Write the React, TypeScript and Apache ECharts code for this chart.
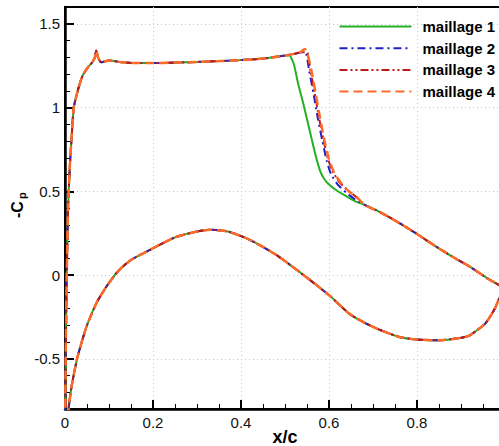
import React, { useEffect, useRef } from 'react';
import * as echarts from 'echarts';

const seriesNames = ['maillage 1', 'maillage 2', 'maillage 3', 'maillage 4'];
const seriesColors = ['#24b024', '#2020c8', '#c01818', '#ff6a28'];
const yMajorTicks = [-0.5, 0, 0.5, 1, 1.5];

// upper surface, leading edge (common)
const leX = [0, 0.002, 0.004, 0.007, 0.011, 0.015, 0.02, 0.03, 0.04, 0.052, 0.062, 0.068, 0.071, 0.075, 0.082, 0.09];
const leCp = [-1.0, -0.4, 0.0, 0.4, 0.65, 0.82, 1.0, 1.11, 1.19, 1.24, 1.27, 1.3, 1.34, 1.3, 1.27, 1.275];
// upper surface plateau (common)
const plateauX = [0.1, 0.13, 0.16, 0.2, 0.25, 0.3, 0.35, 0.4, 0.45, 0.5];
const plateauCp = [1.28, 1.27, 1.265, 1.265, 1.268, 1.272, 1.277, 1.283, 1.292, 1.31];
// shock region, per mesh
const shockX1 = [0.51, 0.52, 0.53, 0.54, 0.55, 0.56, 0.57, 0.58, 0.59, 0.6, 0.62, 0.64, 0.66];
const shockCp1 = [1.31, 1.26, 1.14, 1.04, 0.93, 0.82, 0.71, 0.62, 0.57, 0.54, 0.5, 0.47, 0.44];
const shockX2 = [0.52, 0.54, 0.548, 0.555, 0.565, 0.575, 0.585, 0.595, 0.605, 0.62, 0.64, 0.66];
const shockCp2 = [1.32, 1.33, 1.32, 1.22, 1.08, 0.93, 0.8, 0.68, 0.6, 0.54, 0.49, 0.45];
const shockX3 = [0.52, 0.54, 0.55, 0.558, 0.568, 0.578, 0.588, 0.598, 0.61, 0.625, 0.645, 0.665];
const shockCp3 = [1.32, 1.33, 1.33, 1.22, 1.08, 0.93, 0.8, 0.69, 0.61, 0.55, 0.5, 0.46];
const shockX4 = [0.52, 0.535, 0.545, 0.553, 0.56, 0.57, 0.58, 0.59, 0.6, 0.612, 0.627, 0.645, 0.665];
const shockCp4 = [1.32, 1.33, 1.35, 1.3, 1.22, 1.08, 0.93, 0.8, 0.69, 0.61, 0.55, 0.5, 0.46];
// upper surface aft of shock (common)
const aftX = [0.68, 0.72, 0.76, 0.8, 0.84, 0.88, 0.92, 0.96, 1.0];
const aftCp = [0.42, 0.37, 0.31, 0.245, 0.175, 0.11, 0.05, -0.02, -0.08];
// lower surface (common)
const lowerX = [0, 0.008, 0.015, 0.027, 0.038, 0.05, 0.072, 0.095, 0.121, 0.15, 0.193, 0.25, 0.3, 0.33, 0.37, 0.42, 0.48, 0.534, 0.6, 0.648, 0.7, 0.76, 0.8, 0.85, 0.9, 0.92, 0.955, 0.977, 0.99, 1.0];
const lowerCp = [-1.0, -0.8, -0.665, -0.505, -0.4, -0.3, -0.165, -0.066, 0.024, 0.09, 0.15, 0.225, 0.26, 0.27, 0.26, 0.21, 0.12, 0.016, -0.12, -0.235, -0.31, -0.37, -0.385, -0.39, -0.375, -0.36, -0.29, -0.2, -0.12, -0.08];

const shockXs = [shockX1, shockX2, shockX3, shockX4];
const shockCps = [shockCp1, shockCp2, shockCp3, shockCp4];

const zip = (xs: number[], ys: number[]) => xs.map((x, i) => [x, ys[i]]);

const FONT = 'Liberation Sans, Arial, Helvetica, sans-serif';

export default function App() {
  const ref = useRef<HTMLDivElement>(null);
  useEffect(() => {
    if (!ref.current) return;
    const chart = echarts.init(ref.current, undefined, { renderer: 'svg' });
    const lineTypes: any[] = ['solid', [8, 4, 2, 4], [8, 3, 2, 3, 2, 3], [9, 5]];
    const widths = [2, 2, 2, 2.5];
    const series = seriesNames.map((name, k) => {
      const lower = zip(lowerX, lowerCp).reverse();
      const upper = [
        ...zip(leX, leCp),
        ...zip(plateauX, plateauCp),
        ...zip(shockXs[k], shockCps[k]),
        ...zip(aftX, aftCp),
      ];
      return {
        name,
        type: 'line',
        xAxisIndex: 0,
        yAxisIndex: 0,
        data: [...lower, ...upper],
        showSymbol: false,
        symbol: 'none',
        smooth: 0.2,
        clip: true,
        lineStyle: { color: seriesColors[k], width: widths[k], type: lineTypes[k] },
        itemStyle: { color: seriesColors[k] },
        z: 2 + k,
      };
    });
    const option: any = {
      animation: false,
      backgroundColor: '#fff',
      grid: {
        left: 65,
        top: 7,
        width: 440,
        height: 402,
        outerBoundsMode: 'none',
        containLabel: false,
        show: true,
        borderColor: '#000',
        borderWidth: 2,
        backgroundColor: 'transparent',
      },
      legend: {
        orient: 'vertical',
        right: 4,
        top: 19,
        padding: 0,
        itemWidth: 72,
        itemHeight: 12,
        itemGap: 6.7,
        data: seriesNames,
        itemStyle: { opacity: 0 },
        textStyle: {
          fontFamily: FONT,
          fontWeight: 'bold',
          fontSize: 15,
          color: '#000',
          padding: [0, 0, 0, 6],
        },
      },
      xAxis: {
        type: 'value',
        min: 0,
        max: 1,
        interval: 0.2,
        name: 'x/c',
        nameLocation: 'middle',
        nameGap: 19,
        nameMoveOverlap: false,
        nameTextStyle: { fontFamily: FONT, fontWeight: 'bold', fontSize: 18, color: '#000', verticalAlign: 'top', lineHeight: 18 },
        axisLine: { show: true, onZero: false, lineStyle: { color: '#000', width: 2.5 } },
        axisTick: { show: true, inside: true, length: 9, lineStyle: { color: '#000', width: 2 } },
        minorTick: { show: true, splitNumber: 4, length: 5, lineStyle: { color: '#000', width: 1 } },
        axisLabel: { fontFamily: FONT, fontSize: 15, color: '#111', margin: 6, showMaxLabel: false },
        splitLine: { show: true, lineStyle: { color: '#c8c8c8', type: [1, 3], width: 1 } },
      },
      yAxis: [
        {
          type: 'value',
          position: 'left',
          min: -0.8,
          max: 1.6,
          interval: 0.1,
          axisLine: { show: true, onZero: false, lineStyle: { color: '#000', width: 2.5 } },
          axisTick: { show: true, inside: true, length: 9, customValues: yMajorTicks, lineStyle: { color: '#000', width: 2 } },
          axisLabel: { fontFamily: FONT, fontSize: 15, color: '#111', margin: 5, customValues: yMajorTicks },
          splitLine: { show: true, lineStyle: { color: '#c8c8c8', type: [1, 3], width: 1 } },
        },
        {
          type: 'value',
          position: 'left',
          min: -0.8,
          max: 1.6,
          interval: 0.1,
          axisLine: { show: false, onZero: false },
          axisTick: { show: true, inside: true, length: 5, lineStyle: { color: '#000', width: 1 } },
          axisLabel: { show: false },
          splitLine: { show: false },
        },
      ],
      graphic: [
        {
          type: 'group',
          x: 9,
          y: 218,
          rotation: Math.PI / 2,
          children: [
            {
              type: 'text',
              x: 0,
              y: 0,
              style: {
                text: '-C',
                fontFamily: FONT,
                fontWeight: 'bold',
                fontSize: 16,
                fill: '#000',
                textAlign: 'left',
                textVerticalAlign: 'top',
              },
            },
            {
              type: 'text',
              x: 19,
              y: 7,
              style: {
                text: 'p',
                fontFamily: FONT,
                fontWeight: 'bold',
                fontSize: 11,
                fill: '#000',
                textAlign: 'left',
                textVerticalAlign: 'top',
              },
            },
          ],
        },
      ],
      series,
    };
    chart.setOption(option);
    return () => chart.dispose();
  }, []);
  return (
    <div
      ref={ref}
      style={{ position: 'fixed', left: 0, top: 0, width: 499, height: 446 }}
    />
  );
}
